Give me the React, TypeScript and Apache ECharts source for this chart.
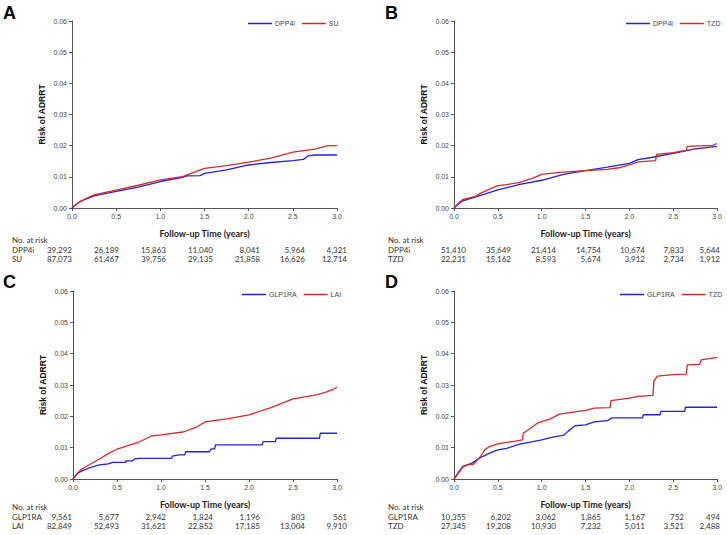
import React, { useEffect, useRef } from "react";
import * as echarts from "echarts";

// ---------- DATA ----------
const xTickLabels = ["0.0", "0.5", "1.0", "1.5", "2.0", "2.5", "3.0"];

// Panel A: DPP4i vs SU
const aDpp4i: number[][] = [[0,0],[0.05,0.0012],[0.1,0.0021],[0.15,0.0028],[0.25,0.0039],[0.5,0.0053],[0.75,0.0067],[1.0,0.0085],[1.25,0.0098],[1.3,0.0103],[1.45,0.0104],[1.5,0.0111],[1.75,0.0122],[2.0,0.0138],[2.25,0.0146],[2.5,0.0152],[2.62,0.0156],[2.67,0.0167],[2.75,0.017],[3.0,0.017]];
const aSu: number[][] = [[0,0],[0.05,0.0013],[0.1,0.0022],[0.15,0.0029],[0.25,0.0042],[0.5,0.0057],[0.75,0.0073],[1.0,0.009],[1.25,0.0101],[1.5,0.0127],[1.75,0.0136],[2.0,0.0147],[2.25,0.016],[2.5,0.0179],[2.75,0.0189],[2.9,0.02],[3.0,0.02]];
const aRiskDpp4i = [39292, 26189, 15863, 11040, 8041, 5964, 4321];
const aRiskSu = [87073, 61467, 39756, 29135, 21858, 16626, 12714];

// Panel B: DPP4i vs TZD
const bDpp4i: number[][] = [[0,0],[0.05,0.0013],[0.1,0.0023],[0.25,0.0036],[0.5,0.0058],[0.75,0.0076],[1.0,0.0089],[1.25,0.0108],[1.5,0.012],[1.75,0.0131],[2.0,0.0143],[2.1,0.0155],[2.25,0.0162],[2.5,0.0175],[2.75,0.019],[3.0,0.0198]];
const bTzd: number[][] = [[0,0],[0.05,0.0015],[0.1,0.0027],[0.25,0.0038],[0.3,0.0047],[0.4,0.006],[0.5,0.0072],[0.6,0.0075],[0.75,0.0082],[0.9,0.0096],[1.0,0.0108],[1.2,0.0114],[1.5,0.012],[1.75,0.0124],[1.9,0.013],[2.0,0.0138],[2.1,0.0148],[2.3,0.0152],[2.31,0.0172],[2.5,0.0178],[2.65,0.0185],[2.66,0.0198],[2.95,0.0201],[3.0,0.0207]];
const bRiskDpp4i = [51410, 35649, 21414, 14754, 10674, 7833, 5644];
const bRiskTzd = [22231, 15162, 8593, 5674, 3912, 2734, 1912];

// Panel C: GLP1RA vs LAI
const cGlp1ra: number[][] = [[0,0],[0.05,0.0018],[0.1,0.0026],[0.2,0.0037],[0.3,0.0045],[0.4,0.0048],[0.45,0.0053],[0.6,0.0053],[0.6,0.0058],[0.68,0.0058],[0.7,0.0064],[0.75,0.0066],[1.12,0.0066],[1.13,0.0073],[1.2,0.0077],[1.27,0.0077],[1.28,0.0087],[1.55,0.0087],[1.57,0.0096],[1.61,0.0096],[1.62,0.0109],[2.15,0.0109],[2.16,0.0119],[2.3,0.0119],[2.31,0.013],[2.8,0.013],[2.81,0.0146],[3.0,0.0146]];
const cLai: number[][] = [[0,0],[0.05,0.0018],[0.1,0.0032],[0.2,0.0048],[0.3,0.0064],[0.4,0.0081],[0.5,0.0095],[0.75,0.0118],[0.9,0.0138],[1.0,0.0141],[1.25,0.015],[1.4,0.0165],[1.5,0.0182],[1.75,0.0192],[2.0,0.0205],[2.25,0.0228],[2.5,0.0256],[2.75,0.0268],[2.85,0.0275],[2.95,0.0285],[3.0,0.0293]];
const cRiskGlp1ra = [9561, 5677, 2942, 1824, 1196, 803, 561];
const cRiskLai = [82849, 52493, 31621, 22852, 17185, 13004, 9910];

// Panel D: GLP1RA vs TZD
const dGlp1ra: number[][] = [[0,0],[0.05,0.0021],[0.1,0.004],[0.2,0.005],[0.3,0.0068],[0.4,0.0082],[0.5,0.0093],[0.6,0.0098],[0.75,0.0111],[0.9,0.0119],[1.0,0.0125],[1.1,0.0132],[1.25,0.014],[1.3,0.0152],[1.38,0.017],[1.5,0.0173],[1.6,0.0182],[1.75,0.0186],[1.8,0.0195],[2.15,0.0195],[2.16,0.0205],[2.35,0.0205],[2.36,0.0216],[2.63,0.0216],[2.64,0.0229],[3.0,0.0229]];
const dTzd: number[][] = [[0,0],[0.05,0.0018],[0.1,0.0038],[0.15,0.0045],[0.22,0.0047],[0.25,0.0055],[0.3,0.0071],[0.35,0.0093],[0.4,0.0103],[0.5,0.0112],[0.6,0.0117],[0.7,0.0121],[0.78,0.0125],[0.79,0.0146],[0.85,0.0157],[0.95,0.0178],[1.1,0.0192],[1.2,0.0207],[1.5,0.0219],[1.6,0.0226],[1.78,0.0228],[1.79,0.025],[2.0,0.0258],[2.1,0.0264],[2.27,0.0267],[2.28,0.0312],[2.32,0.0328],[2.5,0.0333],[2.65,0.0335],[2.66,0.0364],[2.8,0.0366],[2.82,0.038],[3.0,0.0388]];
const dRiskGlp1ra = [10355, 6202, 3062, 1865, 1167, 752, 494];
const dRiskTzd = [27345, 19208, 10930, 7232, 5011, 3521, 2488];

// ---------- LAYOUT / STYLE ----------
const BLUE = "#2222e0";
const RED = "#d42a2a";
const AXIS = "#555";
const TICKFONT = "Liberation Sans";
const TABLEFONT = "Lato";
const TABLESIZE = 8;

const leftCols = [72, 119, 166, 213, 260, 305, 347];
const rightCols = [466, 511, 556, 601, 645, 684, 720];

const panels = [
  { letter: "A", left: 72, top: 21, width: 265, height: 187, letterX: 3, letterY: 13, legendLeft: 248, legendTop: 20,
    labelX: 12, tableY: 240, colRight: leftCols,
    series: [{ name: "DPP4i", color: BLUE, data: aDpp4i, risk: aRiskDpp4i }, { name: "SU", color: RED, data: aSu, risk: aRiskSu }] },
  { letter: "B", left: 454, top: 21, width: 263, height: 187, letterX: 385, letterY: 13, legendLeft: 626, legendTop: 20,
    labelX: 388, tableY: 240, colRight: rightCols,
    series: [{ name: "DPP4i", color: BLUE, data: bDpp4i, risk: bRiskDpp4i }, { name: "TZD", color: RED, data: bTzd, risk: bRiskTzd }] },
  { letter: "C", left: 73, top: 291, width: 264, height: 188, letterX: 3, letterY: 282, legendLeft: 242, legendTop: 291,
    labelX: 12, tableY: 507, colRight: leftCols,
    series: [{ name: "GLP1RA", color: BLUE, data: cGlp1ra, risk: cRiskGlp1ra }, { name: "LAI", color: RED, data: cLai, risk: cRiskLai }] },
  { letter: "D", left: 454, top: 291, width: 263, height: 188, letterX: 385, letterY: 282, legendLeft: 620, legendTop: 291,
    labelX: 388, tableY: 507, colRight: rightCols,
    series: [{ name: "GLP1RA", color: BLUE, data: dGlp1ra, risk: dRiskGlp1ra }, { name: "TZD", color: RED, data: dTzd, risk: dRiskTzd }] },
];

function txt(text: string, x: number, y: number, font: string, fill: string, align = "left") {
  return {
    type: "text",
    x,
    y,
    silent: true,
    style: { text, font, fill, align, verticalAlign: "middle", textAlign: align, textVerticalAlign: "middle" },
  };
}

function buildOption() {
  const grid: any[] = [];
  const xAxis: any[] = [];
  const yAxis: any[] = [];
  const series: any[] = [];
  const legend: any[] = [];
  const graphic: any[] = [];
  const tableFont = `${TABLESIZE}px ${TABLEFONT}`;

  panels.forEach((p, i) => {
    grid.push({ left: p.left, top: p.top, width: p.width, height: p.height, containLabel: false });
    xAxis.push({
      type: "value", gridIndex: i, min: 0, max: 3, interval: 0.5,
      axisLine: { show: true, lineStyle: { color: AXIS, width: 1 } },
      axisTick: { show: true, length: 3, lineStyle: { color: AXIS } },
      axisLabel: { fontSize: 7, color: "#444", margin: 5, fontFamily: TICKFONT, formatter: (v: number) => xTickLabels[Math.round(v * 2)] ?? v.toFixed(1) },
      splitLine: { show: false },
      name: "Follow-up Time (years)", nameLocation: "middle", nameGap: 21,
      nameTextStyle: { fontFamily: TABLEFONT, fontWeight: "bold", fontSize: 9, color: "#222" },
    });
    yAxis.push({
      type: "value", gridIndex: i, min: 0, max: 0.06, interval: 0.01,
      axisLine: { show: true, lineStyle: { color: AXIS, width: 1 } },
      axisTick: { show: true, length: 3, lineStyle: { color: AXIS } },
      axisLabel: { fontSize: 7, color: "#444", margin: 5, fontFamily: TICKFONT, formatter: (v: number) => v.toFixed(2) },
      splitLine: { show: false },
      name: "Risk of ADRRT", nameLocation: "middle", nameGap: 26, nameRotate: 90,
      nameTextStyle: { fontFamily: TICKFONT, fontWeight: "bold", fontSize: 8.5, color: "#111" },
    });
    p.series.forEach((s) => {
      series.push({
        type: "line", name: s.name, xAxisIndex: i, yAxisIndex: i, data: s.data,
        showSymbol: false, symbol: "none", color: s.color,
        lineStyle: { color: s.color, width: 1.3 },
      });
    });
    legend.push({
      left: p.legendLeft, top: p.legendTop, orient: "horizontal", padding: 0, width: 110,
      data: p.series.map((s) => s.name),
      icon: "rect", itemWidth: 24, itemHeight: 1.5, itemGap: 7,
      textStyle: { fontSize: 7, color: "#444", fontFamily: TICKFONT, padding: [0, 0, 0, -2] },
      selectedMode: false,
    });

    graphic.push(txt(p.letter, p.letterX, p.letterY, "bold 18px 'Liberation Sans'", "#000"));
    graphic.push(txt("No. at risk", p.labelX, p.tableY, tableFont, "#333"));
    p.series.forEach((s, r) => {
      const y = p.tableY + 9.5 * (r + 1);
      graphic.push(txt(s.name, p.labelX, y, tableFont, "#333"));
      s.risk.forEach((n, k) => {
        graphic.push(txt(n.toLocaleString("en-US"), p.colRight[k], y, tableFont, "#333", "right"));
      });
    });
  });

  return { animation: false, backgroundColor: "#fff", grid, xAxis, yAxis, series, legend, graphic };
}

export default function App() {
  const ref = useRef<HTMLDivElement>(null);
  useEffect(() => {
    if (!ref.current) return;
    const chart = echarts.init(ref.current, null, { renderer: "svg" });
    chart.setOption(buildOption() as any);
    return () => chart.dispose();
  }, []);
  return (
    <div
      ref={ref}
      style={{ position: "fixed", left: 0, top: 0, width: 727, height: 535, background: "#fff" }}
    />
  );
}
